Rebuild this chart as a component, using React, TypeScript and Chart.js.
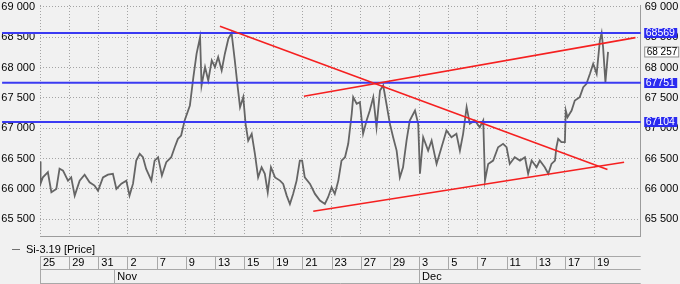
import React, { useEffect, useRef } from 'react';
import { Chart, registerables } from 'chart.js';

Chart.register(...registerables);

// ---- data ----
const seriesName = 'Si-3.19 [Price]';
const dateLabels = ['25', '29', '31', '2', '7', '9', '13', '15', '19', '21', '23', '27', '29', '3', '5', '7', '11', '13', '17', '19'];
const monthLabels = ['Nov', 'Dec'];
const monthStarts = [2.55, 13];
const yTicks = [65500, 66000, 66500, 67000, 67500, 68000, 68500, 69000];

// time position (in date-tick units) and price
const priceTime = [
  0, 0.02, 0.1, 0.27, 0.39, 0.56, 0.67, 0.79, 0.96, 1.07,
  1.19, 1.36, 1.53, 1.7, 1.87, 1.99, 2.16, 2.33, 2.5, 2.62,
  2.79, 2.96, 3.07, 3.19, 3.3, 3.42, 3.53, 3.64, 3.82, 3.93,
  4.05, 4.18, 4.33, 4.5, 4.62, 4.73, 4.84, 4.96, 5.14, 5.26,
  5.37, 5.49, 5.54, 5.66, 5.77, 5.89, 6.0, 6.11, 6.23, 6.34,
  6.46, 6.57, 6.68, 6.78, 6.86, 6.97, 7.05, 7.14, 7.26, 7.37,
  7.48, 7.6, 7.71, 7.81, 7.92, 8.06, 8.23, 8.34, 8.46, 8.57,
  8.68, 8.8, 8.91, 8.99, 9.08, 9.26, 9.43, 9.6, 9.77, 9.88,
  10.0, 10.11, 10.23, 10.34, 10.46, 10.57, 10.69, 10.74, 10.86, 10.97,
  11.08, 11.2, 11.31, 11.43, 11.54, 11.66, 11.77, 11.88, 12.0, 12.11,
  12.23, 12.34, 12.45, 12.57, 12.68, 12.86, 12.97, 13.03, 13.14, 13.31,
  13.43, 13.6, 13.77, 13.94, 14.11, 14.28, 14.4, 14.51, 14.63, 14.74,
  14.91, 15.08, 15.2, 15.26, 15.37, 15.54, 15.71, 15.88, 16.0, 16.11,
  16.28, 16.46, 16.63, 16.74, 16.86, 17.03, 17.14, 17.31, 17.43, 17.54,
  17.66, 17.71, 17.77, 17.88, 18.0, 18.03, 18.09, 18.23, 18.34, 18.51,
  18.63, 18.74, 18.86, 18.97, 19.09, 19.2, 19.26, 19.31, 19.39, 19.48,
];
const priceValue = [
  66450, 66087, 66192, 66275, 65945, 66000, 66335, 66300, 66137, 66190,
  65890, 66137, 66235, 66110, 66055, 65970, 66190, 66235, 66250, 66000,
  66087, 66137, 65890, 66087, 66467, 66578, 66522, 66330, 66137, 66467,
  66522, 66220, 66440, 66522, 66687, 66825, 66880, 67127, 67375, 67842,
  68228, 68500, 67705, 68007, 67787, 68117, 68007, 68172, 67952, 68228,
  68475, 68569, 68117, 67677, 67347, 67512, 67072, 66797, 66908, 66578,
  66190, 66357, 66250, 65945, 66357, 66190, 66137, 66082, 65890, 65752,
  65918, 66137, 66467, 66467, 66190, 66082, 65918, 65808, 65752, 65863,
  66027, 65918, 66137, 66467, 66522, 66743, 67238, 67512, 67403, 67430,
  66908, 67127, 67292, 67512, 67017, 67622, 67705, 67403, 67072, 66852,
  66632, 66190, 66357, 66797, 67127, 67292, 67072, 66250, 66852, 66632,
  66797, 66412, 66687, 66962, 66852, 66908, 66632, 66908, 67347, 67072,
  67127, 67017, 67127, 66137, 66412, 66467, 66687, 66743, 66687, 66412,
  66522, 66467, 66522, 66250, 66467, 66357, 66467, 66357, 66250, 66412,
  66467, 66687, 66825, 66770, 66770, 67292, 67182, 67292, 67457, 67512,
  67677, 67732, 67897, 68062, 67897, 68447, 68569, 68337, 67760, 68257,
];
const levels = [68569, 67751, 67104];
const lastPrice = 68257;
const trendFromTime = [6.17, 9.05, 9.37];
const trendFromValue = [68678, 67528, 65631];
const trendToTime = [19.46, 20.42, 20.03];
const trendToValue = [66319, 68492, 66439];

// ---- styling ----
const FONT = '"Liberation Sans", Arial, sans-serif';
const W = 680;
const H = 284;
const X_MAX = 20.6;
const Y_MIN = 65213;
const Y_MAX = 69030;
const LEVEL_EXT_LEFT = -1.3;
const GRID = '#a4a4a4';
const BLUE = '#3a3af2';
const BOX_BLUE = '#2a2af0';
const RED = '#f52020';

const fmt = (v: number) => {
  const s = String(Math.round(v));
  return s.length > 3 ? s.slice(0, -3) + ' ' + s.slice(-3) : s;
};

const overlay = {
  id: 'overlay',
  afterDraw(chart: any) {
    const { ctx, chartArea, scales } = chart;
    const xs = scales.x;
    const ys = scales.y;
    ctx.save();
    // legend line + text
    ctx.strokeStyle = '#707070';
    ctx.lineWidth = 1;
    ctx.beginPath();
    ctx.moveTo(12, 249.5);
    ctx.lineTo(20, 249.5);
    ctx.stroke();
    ctx.font = `11px ${FONT}`;
    ctx.fillStyle = '#000';
    ctx.textAlign = 'left';
    ctx.textBaseline = 'middle';
    ctx.fillText(seriesName, 26, 250);

    // date table lines
    const top = 256.5, mid = 269.5, bot = 283.5;
    const L = Math.round(chartArea.left) + 0.5;
    const R = chartArea.right;
    ctx.strokeStyle = '#a8a8a8';
    ctx.beginPath();
    [top, mid, bot].forEach((y) => { ctx.moveTo(L - 0.5, y); ctx.lineTo(R, y); });
    ctx.moveTo(L, top); ctx.lineTo(L, bot);
    dateLabels.forEach((_, i) => {
      const x = Math.round(xs.getPixelForValue(i)) + 0.5;
      ctx.moveTo(x, top); ctx.lineTo(x, mid);
    });
    monthStarts.forEach((m) => {
      const x = Math.round(xs.getPixelForValue(m)) + 0.5;
      ctx.moveTo(x, mid); ctx.lineTo(x, bot);
    });
    ctx.stroke();
    monthLabels.forEach((t, i) => {
      const x = xs.getPixelForValue(monthStarts[i]) + 3;
      ctx.fillText(t, x, 277);
    });

    // right-side markers
    const bx = chartArea.right + 3.5;
    const bw = 33;
    ctx.font = `10.5px ${FONT}`;
    levels.forEach((v) => {
      const y = ys.getPixelForValue(v);
      ctx.fillStyle = BOX_BLUE;
      ctx.fillRect(bx, Math.round(y) - 5, bw, 10);
      ctx.fillStyle = '#fff';
      ctx.fillText(String(v), bx + 1.5, Math.round(y) + 0.5);
    });
    const yl = Math.round(ys.getPixelForValue(lastPrice));
    ctx.fillStyle = '#fff';
    ctx.fillRect(bx, yl - 5.5, bw + 2, 11);
    ctx.strokeStyle = '#8a8a8a';
    ctx.strokeRect(bx + 0.5, yl - 5, bw + 1, 10);
    ctx.fillStyle = '#000';
    ctx.font = `10px ${FONT}`;
    ctx.fillText(fmt(lastPrice), bx + 2.5, yl + 0.5);
    ctx.restore();
  },
};

export default function App() {
  const ref = useRef<HTMLCanvasElement | null>(null);

  useEffect(() => {
    if (!ref.current) return;
    const priceData = priceTime.map((t, i) => ({ x: t, y: priceValue[i] }));
    const levelSets = levels.map((v) => ({
      type: 'line' as const,
      data: [{ x: LEVEL_EXT_LEFT, y: v }, { x: X_MAX, y: v }],
      borderColor: BLUE,
      borderWidth: 2,
      pointRadius: 0,
      clip: false as const,
      order: 2,
    }));
    const trendSets = trendFromTime.map((t, i) => ({
      type: 'line' as const,
      data: [{ x: t, y: trendFromValue[i] }, { x: trendToTime[i], y: trendToValue[i] }],
      borderColor: RED,
      borderWidth: 1.6,
      pointRadius: 0,
      order: 1,
    }));

    const tickFont = { family: FONT, size: 11 };
    const chart = new Chart(ref.current, {
      type: 'line',
      data: {
        datasets: [
          ...trendSets,
          ...levelSets,
          {
            type: 'line',
            label: seriesName,
            data: priceData,
            borderColor: '#656565',
            borderWidth: 1.8,
            pointRadius: 0,
            tension: 0,
            order: 3,
          },
        ] as any,
      },
      options: {
        animation: false,
        responsive: false,
        maintainAspectRatio: false,
        events: [],
        layout: { padding: { top: 5, left: 0, right: 0, bottom: 0 } },
        plugins: { legend: { display: false }, tooltip: { enabled: false } },
        elements: { point: { radius: 0 } },
        scales: {
          x: {
            type: 'linear',
            position: 'bottom',
            min: 0,
            max: X_MAX,
            afterBuildTicks: (s: any) => { s.ticks = dateLabels.map((_, i) => ({ value: i })); },
            afterFit: (s: any) => { s.height = 47.3; s.paddingLeft = 0; s.paddingRight = 0; },
            grid: { color: GRID, lineWidth: 1, drawTicks: false },
            border: { display: true, color: '#9c9c9c', width: 1, dash: [1, 2] },
            ticks: {
              align: 'start',
              labelOffset: 3,
              padding: 20,
              maxRotation: 0,
              autoSkip: false,
              color: '#000',
              font: tickFont,
              callback: (v: any) => dateLabels[Math.round(Number(v))] ?? '',
            },
          },
          y: {
            type: 'linear',
            position: 'left',
            min: Y_MIN,
            max: Y_MAX,
            afterBuildTicks: (s: any) => { s.ticks = yTicks.map((v) => ({ value: v })); },
            afterFit: (s: any) => { s.width = 40; s.paddingTop = 0; s.paddingBottom = 0; },
            grid: { color: GRID, lineWidth: 1, drawTicks: false },
            border: { display: false, dash: [1, 2] },
            ticks: { padding: 5, color: '#000', font: tickFont, callback: (v: any) => fmt(Number(v)) },
          },
          y2: {
            type: 'linear',
            position: 'right',
            min: Y_MIN,
            max: Y_MAX,
            afterBuildTicks: (s: any) => { s.ticks = yTicks.map((v) => ({ value: v })); },
            afterFit: (s: any) => { s.width = 39.3; s.paddingTop = 0; s.paddingBottom = 0; },
            grid: { display: false, drawTicks: false },
            border: { display: true, color: '#9c9c9c', width: 1 },
            ticks: { padding: 4, color: '#000', font: tickFont, callback: (v: any) => fmt(Number(v)) },
          },
        },
      } as any,
      plugins: [overlay],
    });
    return () => chart.destroy();
  }, []);

  return (
    <div style={{ position: 'fixed', left: 0, top: 0, width: W, height: H, background: '#f1f1f1' }}>
      <canvas ref={ref} width={W} height={H} style={{ display: 'block', width: W, height: H }} />
    </div>
  );
}
